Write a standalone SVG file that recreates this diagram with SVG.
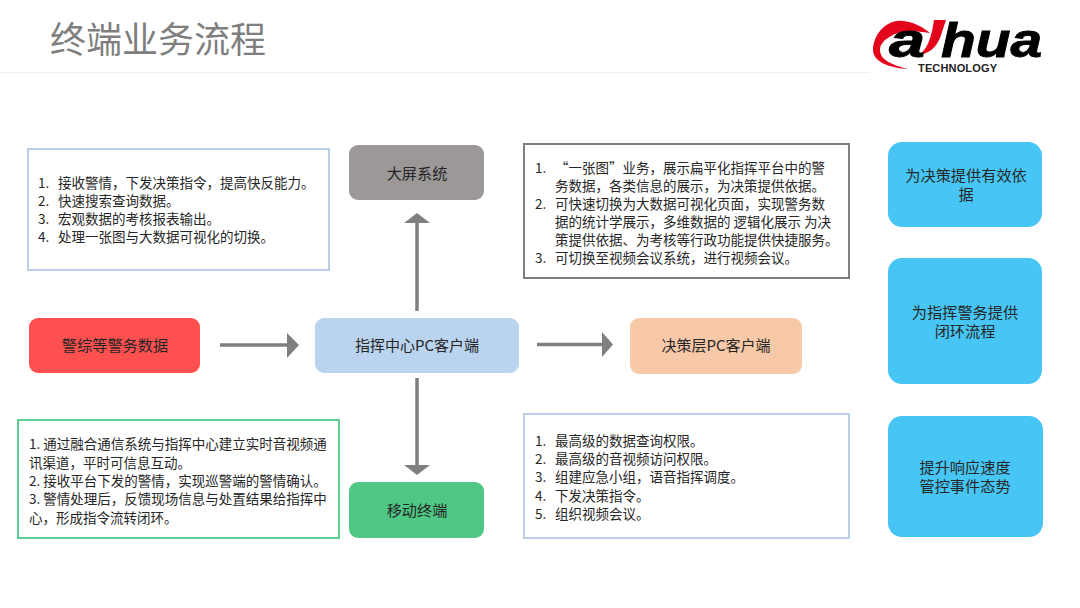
<svg xmlns="http://www.w3.org/2000/svg" width="1080" height="608" viewBox="0 0 1080 608">
<style>
text{font-family:"Noto Sans CJK SC","Noto Sans",sans-serif;fill:#262626}
.b{font-size:13.5px}
.l{font-size:15.2px;text-anchor:middle}
.m{font-size:15px}
.logo{font-family:"Liberation Sans",sans-serif;fill:#000;stroke:#000;stroke-width:.9;font-size:48px;font-weight:700;font-style:italic}
.box{fill:#fff;stroke-width:2}
.c{stroke:#7f7f7f;stroke-width:3.5;fill:none}
.h{fill:#7f7f7f}
</style>
<rect width="1080" height="608" fill="#fff"/>
<g id="header">
<line x1="0" y1="72.500" x2="870" y2="72.500" stroke="#f0f0f0" stroke-width="1"/>
<text x="50" y="53" font-size="36" style="fill:#7f7f7f">终端业务流程</text>
</g>
<g id="logo">
<path d="M930 33C918 23 905 20 897 21C882 23 873 38 873 50C873 62 890 68 908 69C892 65 880 60 880 50C880 40 895 32 908 31C915 31 924 32 930 33Z" fill="#e3051b"/>
<path d="M934 20H946L940 38C936 48 928 54 919 55C927 49 931 40 934 20Z" fill="#e3051b"/>
<text class="logo" x="889" y="57" textLength="36" lengthAdjust="spacingAndGlyphs">a</text>
<text class="logo" x="941" y="57" textLength="101" lengthAdjust="spacingAndGlyphs">hua</text>
<text x="918" y="72" font-size="11" font-weight="700" textLength="79" style="font-family:'Liberation Sans',sans-serif;fill:#222">TECHNOLOGY</text>
</g>
<g id="connectors">
<line class="c" x1="220" y1="345" x2="288" y2="345"/><path class="h" d="M287 333L299 345L287 358Z"/>
<line class="c" x1="537" y1="344.500" x2="604" y2="344.500"/><path class="h" d="M602 332L613 344.500L602 357Z"/>
<line class="c" x1="417" y1="311" x2="417" y2="222"/><path class="h" d="M404 223L417 213L430 223Z"/>
<line class="c" x1="417" y1="378" x2="417" y2="466"/><path class="h" d="M404 465L417 475L430 465Z"/>
</g>
<g id="note-top-left">
<rect class="box" x="28" y="149" width="301" height="121" stroke="#b9cfe8"/>
<text class="b" x="38" y="188">1.</text><text class="b" x="58" y="188">接收警情，下发决策指令，提高快反能力。</text>
<text class="b" x="38" y="206">2.</text><text class="b" x="58" y="206">快速搜索查询数据。</text>
<text class="b" x="38" y="224">3.</text><text class="b" x="58" y="224">宏观数据的考核报表输出。</text>
<text class="b" x="38" y="242">4.</text><text class="b" x="58" y="242">处理一张图与大数据可视化的切换。</text>
</g>
<g id="note-top-right">
<rect class="box" x="524" y="144" width="325" height="134" stroke="#7f7f7f"/>
<text class="b" x="535" y="173">1.</text><text class="b" x="555" y="173">“一张图”业务，展示扁平化指挥平台中的警</text>
<text class="b" x="555" y="191">务数据，各类信息的展示，为决策提供依据。</text>
<text class="b" x="535" y="209">2.</text><text class="b" x="555" y="209">可快速切换为大数据可视化页面，实现警务数</text>
<text class="b" x="555" y="227">据的统计学展示，多维数据的 逻辑化展示 为决</text>
<text class="b" x="555" y="245">策提供依据、为考核等行政功能提供快捷服务。</text>
<text class="b" x="535" y="263">3.</text><text class="b" x="555" y="263">可切换至视频会议系统，进行视频会议。</text>
</g>
<g id="note-bottom-left">
<rect class="box" x="18" y="420" width="321" height="118" stroke="#5fd08f"/>
<text class="b" x="29" y="449">1. 通过融合通信系统与指挥中心建立实时音视频通</text>
<text class="b" x="29" y="468">讯渠道，平时可信息互动。</text>
<text class="b" x="29" y="486">2. 接收平台下发的警情，实现巡警端的警情确认。</text>
<text class="b" x="29" y="504">3. 警情处理后，反馈现场信息与处置结果给指挥中</text>
<text class="b" x="29" y="523">心，形成指令流转闭环。</text>
</g>
<g id="note-bottom-right">
<rect class="box" x="524" y="414" width="325" height="124" stroke="#b9cfe8"/>
<text class="b" x="535" y="446">1.</text><text class="b" x="555" y="446">最高级的数据查询权限。</text>
<text class="b" x="535" y="464">2.</text><text class="b" x="555" y="464">最高级的音视频访问权限。</text>
<text class="b" x="535" y="482">3.</text><text class="b" x="555" y="482">组建应急小组，语音指挥调度。</text>
<text class="b" x="535" y="501">4.</text><text class="b" x="555" y="501">下发决策指令。</text>
<text class="b" x="535" y="519">5.</text><text class="b" x="555" y="519">组织视频会议。</text>
</g>
<g id="node-police-data"><rect x="29" y="318" width="171" height="55" rx="9" fill="#ff5050"/><text class="l" x="115" y="351">警综等警务数据</text></g>
<g id="node-command-pc"><rect x="315" y="318" width="204" height="55" rx="9" fill="#bad3ee"/><text class="l m" x="417" y="351">指挥中心PC客户端</text></g>
<g id="node-decision-pc"><rect x="630" y="318" width="172" height="56" rx="9" fill="#f7c9a8"/><text class="l m" x="716" y="351">决策层PC客户端</text></g>
<g id="node-big-screen"><rect x="349" y="145" width="135" height="55" rx="9" fill="#9c9898"/><text class="l" x="417" y="179">大屏系统</text></g>
<g id="node-mobile"><rect x="349" y="482" width="135" height="56" rx="9" fill="#4fc885"/><text class="l" x="417" y="516">移动终端</text></g>
<g id="value-1"><rect x="888" y="142" width="154" height="85" rx="14" fill="#47c6f5"/><text class="l" x="966" y="181">为决策提供有效依</text><text class="l" x="966" y="199.500">据</text></g>
<g id="value-2"><rect x="888" y="258" width="154" height="126" rx="14" fill="#47c6f5"/><text class="l" x="965" y="318">为指挥警务提供</text><text class="l" x="965" y="336.500">闭环流程</text></g>
<g id="value-3"><rect x="888" y="416" width="155" height="121" rx="14" fill="#47c6f5"/><text class="l" x="965" y="473">提升响应速度</text><text class="l" x="965" y="491.500">管控事件态势</text></g>
</svg>
